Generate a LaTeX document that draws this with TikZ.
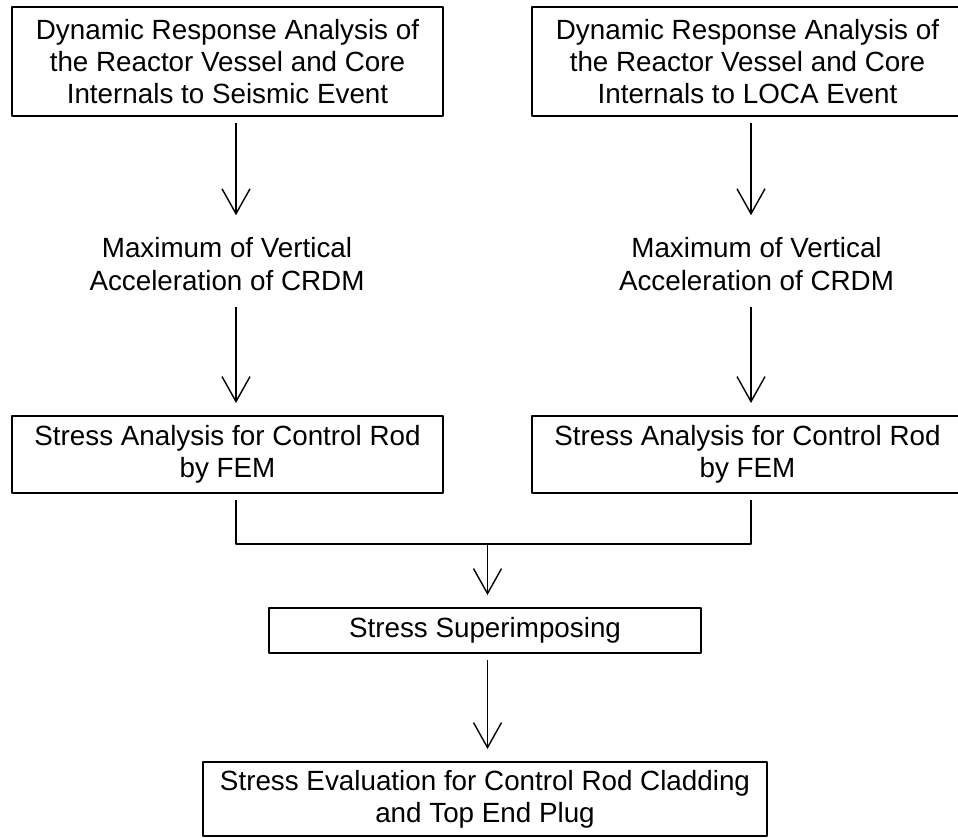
\documentclass[tikz,border=0pt]{standalone}
\usepackage{fontspec}
\setmainfont{Liberation Sans}
\usetikzlibrary{arrows.meta}

\tikzset{
  box/.style={draw, line width=1pt, inner sep=0pt, align=center, minimum width=215.5pt},
  txt/.style={align=center, inner xsep=0pt, inner ysep=5pt},
  flow/.style={line width=.7pt, shorten <=3pt, shorten >=6pt},
}

\begin{document}
\begin{tikzpicture}[x=.5pt, y=-.5pt, font=\fontsize{13.9}{16.2}\selectfont, line join=round, >={Straight Barb[length=12.5pt,width=14pt]}]
	\useasboundingbox (0,0) rectangle (958,837);
	% columns the arrows run down
	\coordinate (colL) at (236,0);
	\coordinate (colR) at (751,0);
	\coordinate (join) at (487.5,544);

	% seismic branch
	\node[box, minimum height=54.5pt] (seis) at (227.5,61.5) {Dynamic Response Analysis of\\the Reactor Vessel and Core\\Internals to Seismic Event};
	\node[txt] (accL) at (227,264) {Maximum of Vertical\\Acceleration of CRDM};
	\node[box, minimum height=38.5pt] (femL) at (227.5,454.5) {Stress Analysis for Control Rod\\by FEM};

	% LOCA branch
	\node[box, minimum height=54.5pt] (loca) at (747.5,61.5) {Dynamic Response Analysis of\\the Reactor Vessel and Core\\Internals to LOCA Event};
	\node[txt] (accR) at (756.5,264) {Maximum of Vertical\\Acceleration of CRDM};
	\node[box, minimum height=38.5pt] (femR) at (747.5,454.5) {Stress Analysis for Control Rod\\by FEM};

	% combined
	\node[box, minimum width=216pt, minimum height=22.5pt] (sup) at (485,630.5) {Stress Superimposing};
	\node[box, minimum width=282pt, minimum height=37pt] (eval) at (485,799) {Stress Evaluation for Control Rod Cladding\\and Top End Plug};

	\draw[flow,->] (seis.south -| colL) -- (accL.north -| colL);
	\draw[flow,->] (accL.south -| colL) -- (femL.north -| colL);
	\draw[flow,->] (loca.south -| colR) -- (accR.north -| colR);
	\draw[flow,->] (accR.south -| colR) -- (femR.north -| colR);
	\draw[flow, shorten >=3pt] (femL.south -| colL) |- (join) -| (femR.south -| colR);
	\draw[flow,->, shorten <=0pt] (join) -- (sup.north -| join);
	\draw[flow,->] (sup.south -| join) -- (eval.north -| join);
\end{tikzpicture}
\end{document}
